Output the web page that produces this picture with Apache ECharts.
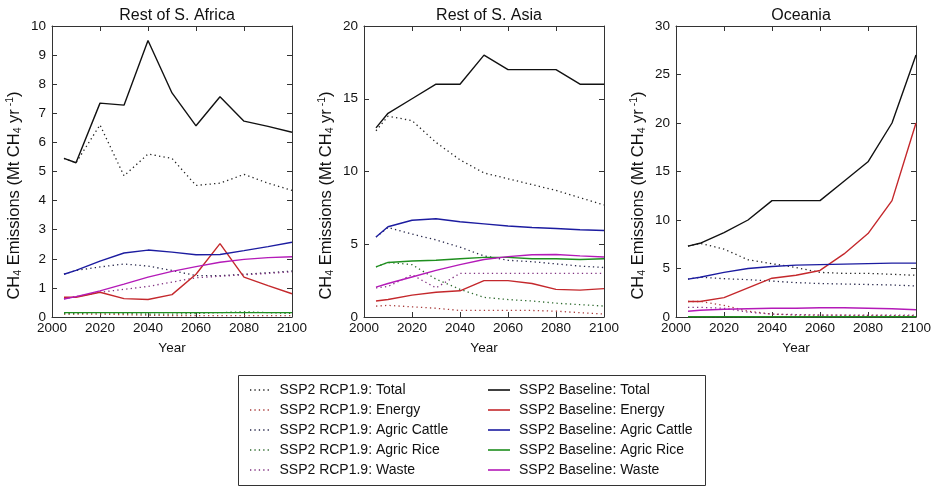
<!DOCTYPE html>
<html>
<head>
<meta charset="utf-8">
<script src="https://cdn.jsdelivr.net/npm/echarts@6/dist/echarts.min.js"></script>
<style>html,body{margin:0;padding:0;background:#fff;}#c{width:936px;height:486px;}</style>
</head>
<body>
<div id="c"></div>
<script>
// ---- data ----
const years = [2005, 2010, 2020, 2030, 2040, 2050, 2060, 2070, 2080, 2090, 2100];
const panelTitles = ['Rest of S. Africa', 'Rest of S. Asia', 'Oceania'];
const yMaxes = [10, 20, 30];
const yIntervals = [1, 5, 5];
const sectors = ['Total', 'Energy', 'Agric Cattle', 'Agric Rice', 'Waste'];
const rcpPrefix = 'SSP2 RCP1.9: ';
const basePrefix = 'SSP2 Baseline: ';

// Rest of S. Africa
const afrBaseTotal  = [5.45, 5.3, 7.35, 7.28, 9.5, 7.7, 6.57, 7.57, 6.73, 6.55, 6.35];
const afrRcpTotal   = [5.45, 5.3, 6.6, 4.85, 5.6, 5.45, 4.52, 4.6, 4.9, 4.6, 4.35];
const afrBaseEnergy = [0.68, 0.68, 0.85, 0.63, 0.6, 0.77, 1.47, 2.52, 1.37, 1.08, 0.8];
const afrRcpEnergy  = [0.1, 0.1, 0.1, 0.08, 0.06, 0.05, 0.05, 0.05, 0.05, 0.05, 0.05];
const afrBaseCattle = [1.47, 1.6, 1.92, 2.2, 2.3, 2.23, 2.14, 2.15, 2.28, 2.42, 2.57];
const afrRcpCattle  = [1.47, 1.6, 1.72, 1.82, 1.75, 1.6, 1.42, 1.42, 1.47, 1.52, 1.58];
const afrBaseRice   = [0.15, 0.15, 0.15, 0.15, 0.15, 0.15, 0.15, 0.15, 0.15, 0.15, 0.15];
const afrRcpRice    = [0.12, 0.12, 0.15, 0.12, 0.1, 0.1, 0.12, 0.15, 0.18, 0.15, 0.12];
const afrBaseWaste  = [0.62, 0.7, 0.9, 1.13, 1.37, 1.57, 1.73, 1.88, 1.98, 2.04, 2.07];
const afrRcpWaste   = [0.62, 0.7, 0.85, 0.95, 1.05, 1.2, 1.35, 1.4, 1.45, 1.5, 1.55];

// Rest of S. Asia
const asiaBaseTotal  = [13.0, 14.0, 15.0, 16.0, 16.0, 18.0, 17.0, 17.0, 17.0, 16.0, 16.0];
const asiaRcpTotal   = [12.8, 13.8, 13.5, 12.0, 10.8, 9.9, 9.5, 9.1, 8.7, 8.2, 7.7];
const asiaBaseEnergy = [1.1, 1.2, 1.5, 1.7, 1.8, 2.5, 2.5, 2.3, 1.9, 1.85, 1.95];
const asiaRcpEnergy  = [0.75, 0.8, 0.7, 0.6, 0.45, 0.45, 0.45, 0.45, 0.4, 0.3, 0.2];
const asiaBaseCattle = [5.5, 6.2, 6.65, 6.75, 6.55, 6.4, 6.25, 6.15, 6.08, 6.0, 5.95];
const asiaRcpCattle  = [5.5, 6.15, 5.7, 5.3, 4.8, 4.2, 3.9, 3.8, 3.65, 3.5, 3.4];
const asiaBaseRice   = [3.45, 3.75, 3.85, 3.9, 4.0, 4.1, 4.1, 4.0, 4.0, 3.95, 4.0];
const asiaRcpRice    = [3.45, 3.75, 3.6, 2.6, 1.9, 1.35, 1.2, 1.1, 0.95, 0.85, 0.75];
const asiaBaseWaste  = [2.05, 2.3, 2.75, 3.2, 3.6, 3.95, 4.15, 4.28, 4.3, 4.2, 4.12];
const asiaRcpWaste   = [2.0, 2.1, 2.9, 2.0, 3.0, 3.0, 3.0, 3.0, 3.0, 3.0, 3.0];

// Oceania
const oceBaseTotal  = [7.3, 7.6, 8.7, 10.0, 12.0, 12.0, 12.0, 14.0, 16.0, 20.0, 27.0];
const oceRcpTotal   = [7.3, 7.6, 7.0, 5.9, 5.5, 5.1, 4.6, 4.5, 4.5, 4.4, 4.3];
const oceBaseEnergy = [1.6, 1.6, 2.0, 3.0, 4.0, 4.3, 4.8, 6.5, 8.6, 12.0, 20.0];
const oceRcpEnergy  = [1.6, 1.6, 1.2, 0.6, 0.3, 0.2, 0.2, 0.18, 0.16, 0.15, 0.15];
const oceBaseCattle = [3.9, 4.1, 4.6, 5.0, 5.2, 5.35, 5.4, 5.45, 5.5, 5.55, 5.55];
const oceRcpCattle  = [3.9, 4.1, 3.95, 3.85, 3.7, 3.55, 3.45, 3.4, 3.35, 3.3, 3.2];
const oceBaseRice   = [0.03, 0.03, 0.03, 0.03, 0.03, 0.03, 0.03, 0.03, 0.03, 0.03, 0.03];
const oceRcpRice    = [0.02, 0.02, 0.02, 0.02, 0.02, 0.02, 0.02, 0.02, 0.02, 0.02, 0.02];
const oceBaseWaste  = [0.6, 0.7, 0.8, 0.85, 0.9, 0.9, 0.95, 0.95, 0.9, 0.85, 0.75];
const oceRcpWaste   = [1.0, 1.0, 0.9, 0.5, 0.3, 0.25, 0.2, 0.2, 0.2, 0.2, 0.2];

const panelBase = [
  [afrBaseTotal, afrBaseEnergy, afrBaseCattle, afrBaseRice, afrBaseWaste],
  [asiaBaseTotal, asiaBaseEnergy, asiaBaseCattle, asiaBaseRice, asiaBaseWaste],
  [oceBaseTotal, oceBaseEnergy, oceBaseCattle, oceBaseRice, oceBaseWaste]
];
const panelRcp = [
  [afrRcpTotal, afrRcpEnergy, afrRcpCattle, afrRcpRice, afrRcpWaste],
  [asiaRcpTotal, asiaRcpEnergy, asiaRcpCattle, asiaRcpRice, asiaRcpWaste],
  [oceRcpTotal, oceRcpEnergy, oceRcpCattle, oceRcpRice, oceRcpWaste]
];

// ---- styles ----
const baseColors = ['#111111', '#c4282c', '#1c1ca0', '#1f8f1f', '#b41ab8'];
const rcpColors  = ['#222222', '#a83a3a', '#26264a', '#2d6a2d', '#803080'];
const FONT = 'Liberation Sans, Arial, Helvetica, sans-serif';
const gridLefts = [52, 364, 676];
const gridW = 240, gridTop = 26, gridH = 291;

const grids = [], xAxes = [], yAxes = [], titles = [], series = [];
const frame = '#333';
const rich = {
  s: { fontSize: 10.5, padding: [8, 0, 0, 0], fontFamily: FONT, color: '#111' },
  p: { fontSize: 10.5, padding: [0, 0, 8, 0], fontFamily: FONT, color: '#111' }
};
for (let p = 0; p < 3; p++) {
  grids.push({ left: gridLefts[p], top: gridTop, width: gridW, height: gridH, containLabel: false });
  titles.push({
    text: panelTitles[p], left: gridLefts[p] + gridW / 2, top: 3, textAlign: 'center',
    textStyle: { fontFamily: FONT, fontSize: 16, fontWeight: 'normal', color: '#111' }
  });
  xAxes.push({
    type: 'value', gridIndex: p, min: 2000, max: 2100, interval: 20, position: 'bottom',
    name: 'Year', nameLocation: 'middle', nameGap: 24,
    nameTextStyle: { fontFamily: FONT, fontSize: 13.5, color: '#111' },
    axisLine: { show: true, onZero: false, lineStyle: { color: frame, width: 1 } },
    axisTick: { show: true, inside: true, length: 5, lineStyle: { color: frame } },
    axisLabel: { fontFamily: FONT, fontSize: 13.5, color: '#111', margin: 4, formatter: v => String(v) },
    splitLine: { show: false }
  });
  xAxes.push({
    type: 'value', gridIndex: p, min: 2000, max: 2100, interval: 20, position: 'top',
    axisLine: { show: true, onZero: false, lineStyle: { color: frame, width: 1 } },
    axisTick: { show: true, inside: true, length: 5, lineStyle: { color: frame } },
    axisLabel: { show: false }, splitLine: { show: false }
  });
  yAxes.push({
    type: 'value', gridIndex: p, min: 0, max: yMaxes[p], interval: yIntervals[p], position: 'left',
    name: 'CH{s|4} Emissions (Mt CH{s|4} yr{p| -1})', nameLocation: 'middle', nameGap: 28,
    nameTextStyle: { fontFamily: FONT, fontSize: 16.5, color: '#111', rich: rich, padding: [0, 48, 0, 0] },
    axisLine: { show: true, onZero: false, lineStyle: { color: frame, width: 1 } },
    axisTick: { show: true, inside: true, length: 5, lineStyle: { color: frame } },
    axisLabel: { fontFamily: FONT, fontSize: 13.5, color: '#111', margin: 6 },
    splitLine: { show: false }
  });
  yAxes.push({
    type: 'value', gridIndex: p, min: 0, max: yMaxes[p], interval: yIntervals[p], position: 'right',
    axisLine: { show: true, onZero: false, lineStyle: { color: frame, width: 1 } },
    axisTick: { show: true, inside: true, length: 5, lineStyle: { color: frame } },
    axisLabel: { show: false }, splitLine: { show: false }
  });
  for (let k = 0; k < sectors.length; k++) {
    series.push({
      type: 'line', name: rcpPrefix + sectors[k], xAxisIndex: p * 2, yAxisIndex: p * 2,
      data: years.map((y, i) => [y, panelRcp[p][k][i]]),
      symbol: 'none', silent: true, z: 2,
      lineStyle: { color: rcpColors[k], width: 1.3, type: [1.3, 3.2] },
      itemStyle: { color: rcpColors[k] }
    });
  }
  for (let k = 0; k < sectors.length; k++) {
    series.push({
      type: 'line', name: basePrefix + sectors[k], xAxisIndex: p * 2, yAxisIndex: p * 2,
      data: years.map((y, i) => [y, panelBase[p][k][i]]),
      symbol: 'none', silent: true, z: 3,
      lineStyle: { color: baseColors[k], width: 1.4, type: 'solid' },
      itemStyle: { color: baseColors[k] }
    });
  }
}

// legend icons: a row of dots (dotted) and a thin bar (solid)
let dotPath = 'path://';
for (let x = 0; x < 22; x += 4.4) dotPath += 'M' + x + ',0h1.3v1.3h-1.3z';
const barPath = 'path://M0,0h22v1.6h-22z';

const legendText = { fontFamily: FONT, fontSize: 14, color: '#111', padding: [0, 0, 0, 4], lineHeight: 14 };
const option = {
  animation: false,
  backgroundColor: '#fff',
  title: titles,
  grid: grids,
  xAxis: xAxes,
  yAxis: yAxes,
  series: series,
  legend: [
    {
      left: 245, top: 378, orient: 'vertical', itemGap: 6, itemWidth: 22, itemHeight: 1.3, icon: dotPath,
      data: sectors.map(s => rcpPrefix + s), textStyle: legendText, selectedMode: false
    },
    {
      left: 483, top: 378, orient: 'vertical', itemGap: 6, itemWidth: 22, itemHeight: 1.6, icon: barPath,
      data: sectors.map(s => basePrefix + s), textStyle: legendText, selectedMode: false
    }
  ],
  graphic: [{
    type: 'rect', left: 236, top: 373, shape: { width: 467, height: 110 },
    style: { fill: 'none', stroke: '#333', lineWidth: 1 }, silent: true
  }]
};
const chart = echarts.init(document.getElementById('c'), null, { renderer: 'canvas' });
chart.setOption(option);
</script>
</body>
</html>
